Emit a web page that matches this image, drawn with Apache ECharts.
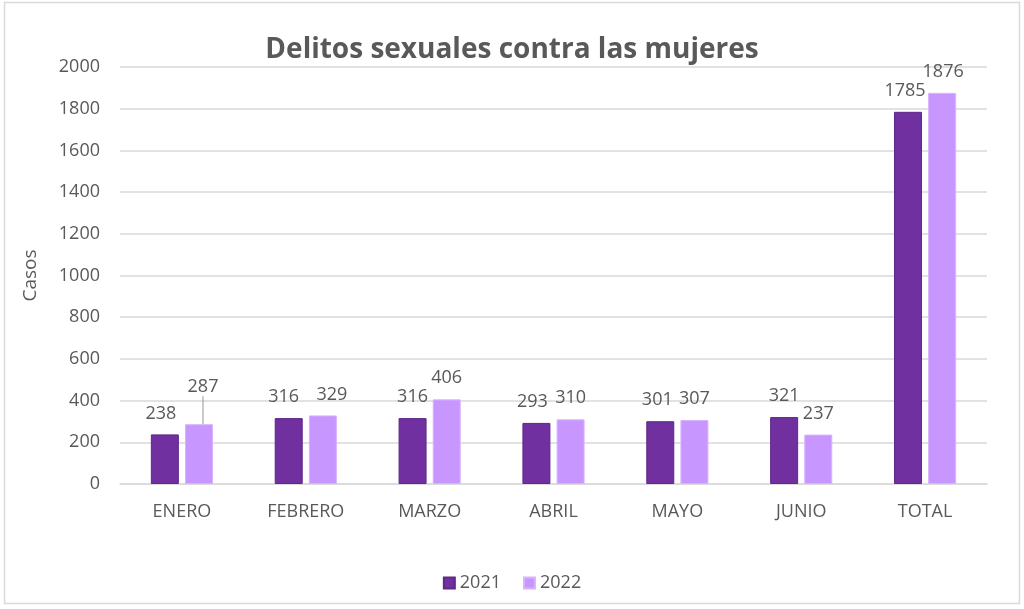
<!DOCTYPE html>
<html>
<head>
<meta charset="utf-8">
<script src="https://cdn.jsdelivr.net/npm/echarts@6/dist/echarts.min.js"></script>
<style>
  html, body { margin: 0; padding: 0; background: #fff; }
  #chart { width: 1024px; height: 609px; }
</style>
</head>
<body>
<div id="chart"></div>
<script>
  var months = ['ENERO', 'FEBRERO', 'MARZO', 'ABRIL', 'MAYO', 'JUNIO', 'TOTAL'];
  var casos2021 = [238, 316, 316, 293, 301, 321, 1785];
  var casos2022 = [287, 329, 406, 310, 307, 237, 1876];
  var yTicks = [0, 200, 400, 600, 800, 1000, 1200, 1400, 1600, 1800, 2000];

  var textColor = '#595959';
  var font = '"Open Sans", "Liberation Sans", sans-serif';

  var chart = echarts.init(document.getElementById('chart'));

  var labelStyle = {
    show: true,
    position: 'top',
    distance: 12,
    color: textColor,
    fontSize: 18,
    fontFamily: font
  };

  // nudges of the data labels, as placed in the original
  var shift2021 = [-4, -5, 0, -4, -3, 0, -3];
  var shift2022 = [4, 9, 0, 0, 0, 0, 1];

  // only the first 2022 label is pulled up with a leader line
  var data2022 = casos2022.map(function (v, i) {
    if (i === 0) {
      return { value: v, labelLine: { show: true } };
    }
    return v;
  });

  chart.setOption({
    animation: false,
    color: ['#7030A0', '#C896FF'],
    title: {
      text: 'Delitos sexuales contra las mujeres',
      left: 'center',
      top: 31,
      textStyle: {
        color: textColor,
        fontSize: 28,
        fontWeight: 'bold',
        fontFamily: font
      }
    },
    graphic: [{
      type: 'rect',
      shape: { x: 4.5, y: 2.5, width: 1015, height: 601 },
      style: { fill: 'none', stroke: '#d9d9d9', lineWidth: 1.5 },
      silent: true
    }],
    grid: {
      left: 120,
      right: 37,
      top: 67,
      bottom: 125
    },
    legend: {
      bottom: 12,
      left: 'center',
      icon: 'rect',
      itemWidth: 11,
      itemHeight: 11,
      itemGap: 22,
      textStyle: { color: textColor, fontSize: 18, fontFamily: font }
    },
    xAxis: {
      type: 'category',
      data: months,
      axisTick: { show: false },
      axisLine: { lineStyle: { color: '#d9d9d9', width: 1.5 } },
      axisLabel: {
        color: textColor,
        fontSize: 18,
        fontFamily: font,
        margin: 19
      }
    },
    yAxis: {
      type: 'value',
      name: 'Casos',
      nameLocation: 'middle',
      nameGap: 80,
      nameTextStyle: { color: textColor, fontSize: 19, fontFamily: font },
      min: yTicks[0],
      max: yTicks[yTicks.length - 1],
      interval: 200,
      axisLine: { show: false },
      axisTick: { show: false },
      splitLine: { lineStyle: { color: '#d9d9d9', width: 1.5 } },
      axisLabel: {
        color: textColor,
        fontSize: 18,
        fontFamily: font,
        margin: 20,
        formatter: function (v) { return String(v); }
      }
    },
    series: [
      {
        name: '2021',
        type: 'bar',
        data: casos2021,
        barWidth: 28,
        barGap: '22%',
        itemStyle: { borderColor: '#5f2888', borderWidth: 1 },
        label: labelStyle,
        labelLayout: function (p) {
          return { dx: shift2021[p.dataIndex] };
        }
      },
      {
        name: '2022',
        type: 'bar',
        data: data2022,
        barWidth: 28,
        itemStyle: { borderColor: '#d9b3ff', borderWidth: 1 },
        label: labelStyle,
        labelLine: { show: false, lineStyle: { color: '#a6a6a6', width: 1.2 } },
        labelLayout: function (p) {
          if (p.dataIndex === 0) return { dx: shift2022[0], dy: -16 };
          return { dx: shift2022[p.dataIndex] };
        }
      }
    ]
  });
</script>
</body>
</html>
